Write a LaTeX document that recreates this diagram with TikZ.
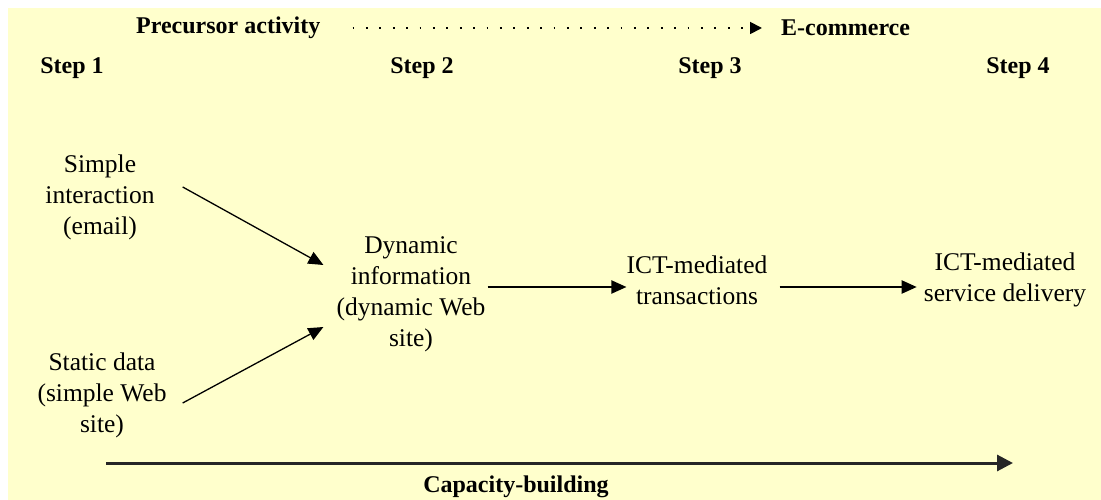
\documentclass[tikz,border=0pt]{standalone}
\usepackage{fontspec}
\setmainfont{Liberation Serif}
\usetikzlibrary{arrows.meta}
\definecolor{paper}{HTML}{FFFFCC}
\begin{document}
\begin{tikzpicture}[x=1pt,y=-1pt,
  txt/.style={font=\fontsize{25.5}{31}\selectfont, align=center, inner sep=0pt},
  head/.style={font=\bfseries\fontsize{24}{28}\selectfont, inner sep=0pt},
  flow/.style={-{Triangle[length=15pt,width=13pt]}, line width=1.3pt},
  mainflow/.style={-{Triangle[length=15pt,width=13pt]}, line width=2pt},
  dotflow/.style={-{Triangle[length=12pt,width=12pt]}, line width=1.8pt,
    dash pattern=on 1.8pt off 11.6pt},
  basis/.style={-{Triangle[length=16pt,width=16pt]}, line width=3pt, black!85}]
\useasboundingbox (0,0) rectangle (1101,500);
\fill[white] (0,0) rectangle (1101,500);
\fill[paper] (8,8) rectangle (1101,500);

% heading row
\node[head, anchor=west] (pre) at (136,28) {Precursor activity};
\node[head, anchor=west] (ecom) at (781,28) {E-commerce};
\draw[dotflow] ([xshift=32pt]pre.east) -- ([xshift=-19pt]ecom.west);

% step labels
\node[head] (s1) at (72,68) {Step 1};
\node[head] (s2) at (422,68) {Step 2};
\node[head] (s3) at (710,68) {Step 3};
\node[head] (s4) at (1018,68) {Step 4};

% stages
\node[txt] (simple) at (100,197) {Simple\\interaction\\(email)};
\node[txt] (static) at (102,395) {Static data\\(simple Web\\site)};
\node[txt] (dyn) at (411,294) {Dynamic\\information\\(dynamic Web\\site)};
\node[txt] (ict) at (697,280) {ICT-mediated\\transactions};
\node[txt] (svc) at (1005,280) {ICT-mediated\\service delivery};

% connectors
\draw[flow] ([xshift=28pt,yshift=10pt]simple.east) -- ([xshift=-13pt,yshift=29pt]dyn.west);
\draw[flow] ([xshift=16pt,yshift=-8pt]static.east) -- ([xshift=-13pt,yshift=-33pt]dyn.west);
\draw[mainflow] ([xshift=2pt,yshift=7pt]dyn.east) -- ([yshift=-7pt]ict.west);
\draw[mainflow] ([xshift=12pt,yshift=-7pt]ict.east) -- ([xshift=-7pt,yshift=-7pt]svc.west);

% capacity-building axis
\coordinate (capA) at (106,463);
\coordinate (capB) at (1013,463);
\draw[basis] (capA) -- (capB);
\node[head] (cap) at (516,487) {Capacity-building};
\end{tikzpicture}
\end{document}
